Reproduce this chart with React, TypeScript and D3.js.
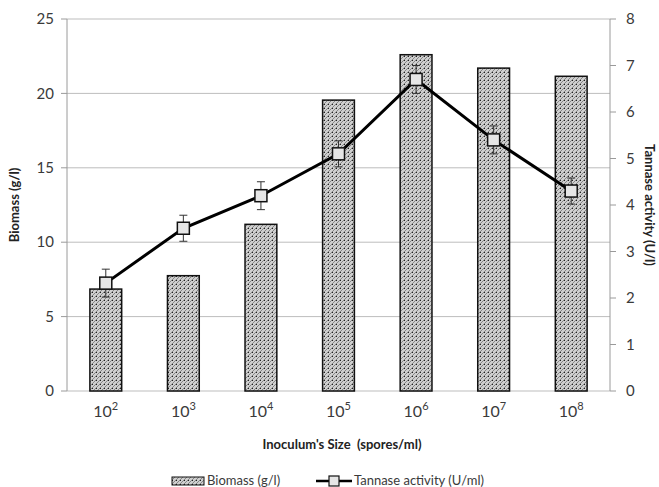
import React, { useEffect, useRef } from 'react';
import * as d3 from 'd3';

const categories = ['2', '3', '4', '5', '6', '7', '8']; // exponents of 10
const biomass = [6.85, 7.75, 11.2, 19.55, 22.6, 21.7, 21.15];
const tannase = [2.32, 3.5, 4.2, 5.1, 6.7, 5.4, 4.3];
const tannaseErr = [0.3, 0.28, 0.3, 0.28, 0.3, 0.3, 0.28];
const leftTicks = [0, 5, 10, 15, 20, 25];
const rightTicks = [0, 1, 2, 3, 4, 5, 6, 7, 8];

const W = 659;
const H = 487;
const FONT = 'Lato, "Open Sans", sans-serif';

export default function App() {
    const svgRef = useRef<SVGSVGElement>(null);

    useEffect(() => {
        document.body.style.margin = '0';
        if (!svgRef.current) return;
        const svg = d3.select(svgRef.current);
        svg.selectAll('*').remove();

        const m = { left: 67, right: 610, top: 19, bottom: 391 };

        const x = d3.scaleBand<string>()
            .domain(categories)
            .range([m.left, m.right])
            .paddingInner(0.59)
            .paddingOuter(0.295);
        const yL = d3.scaleLinear().domain([0, 25]).range([m.bottom, m.top]);
        const yR = d3.scaleLinear().domain([0, 8]).range([m.bottom, m.top]);

        const defs = svg.append('defs');
        const pat = defs.append('pattern')
            .attr('id', 'hatch')
            .attr('patternUnits', 'userSpaceOnUse')
            .attr('width', 4)
            .attr('height', 4);
        pat.append('rect').attr('width', 4).attr('height', 4).attr('fill', '#cfcfcf');
        pat.append('path')
            .attr('d', 'M0,4 L4,0 M-1,1 L1,-1 M3,5 L5,3')
            .attr('stroke', '#7e7e7e')
            .attr('stroke-width', 0.9);
        pat.append('rect').attr('x', 0).attr('y', 0).attr('width', 1).attr('height', 1).attr('fill', '#222');

        // gridlines
        svg.append('g').selectAll('line')
            .data(leftTicks)
            .join('line')
            .attr('x1', m.left).attr('x2', m.right)
            .attr('y1', (d) => yL(d)).attr('y2', (d) => yL(d))
            .attr('stroke', '#bdbdbd').attr('stroke-width', 1);

        // left axis
        const gl = svg.append('g');
        gl.append('line').attr('x1', m.left).attr('x2', m.left).attr('y1', m.top).attr('y2', m.bottom)
            .attr('stroke', '#9a9a9a');
        leftTicks.forEach((t) => {
            gl.append('line').attr('x1', m.left - 6).attr('x2', m.left).attr('y1', yL(t)).attr('y2', yL(t))
                .attr('stroke', '#9a9a9a');
            gl.append('text').attr('x', m.left - 13).attr('y', yL(t)).attr('dy', '0.35em')
                .attr('text-anchor', 'end').attr('font-size', 15).attr('fill', '#3a3a3a')
                .attr('font-family', FONT).text(t);
        });

        // right axis
        const gr = svg.append('g');
        gr.append('line').attr('x1', m.right).attr('x2', m.right).attr('y1', m.top).attr('y2', m.bottom)
            .attr('stroke', '#9a9a9a');
        rightTicks.forEach((t) => {
            gr.append('line').attr('x1', m.right).attr('x2', m.right + 6).attr('y1', yR(t)).attr('y2', yR(t))
                .attr('stroke', '#9a9a9a');
            gr.append('text').attr('x', m.right + 16).attr('y', yR(t)).attr('dy', '0.35em')
                .attr('text-anchor', 'start').attr('font-size', 15).attr('fill', '#3a3a3a')
                .attr('font-family', FONT).text(t);
        });

        // bars
        svg.append('g').selectAll('rect')
            .data(biomass)
            .join('rect')
            .attr('x', (_, i) => x(categories[i])!)
            .attr('width', x.bandwidth())
            .attr('y', (d) => yL(d))
            .attr('height', (d) => yL(0) - yL(d))
            .attr('fill', 'url(#hatch)')
            .attr('stroke', '#111')
            .attr('stroke-width', 1.5);

        // x tick labels
        categories.forEach((c) => {
            const t = svg.append('text')
                .attr('x', x(c)! + x.bandwidth() / 2)
                .attr('y', 417)
                .attr('text-anchor', 'middle')
                .attr('font-size', 16).attr('fill', '#3a3a3a').attr('font-family', FONT);
            t.append('tspan').text('10');
            t.append('tspan').attr('dy', -7).attr('font-size', 11).text(c);
        });

        const cx = (i: number) => x(categories[i])! + x.bandwidth() / 2;

        // error bars
        const ge = svg.append('g');
        tannase.forEach((v, i) => {
            const e = tannaseErr[i];
            ge.append('line').attr('x1', cx(i)).attr('x2', cx(i)).attr('y1', yR(v + e)).attr('y2', yR(v - e))
                .attr('stroke', '#333').attr('stroke-width', 1);
            [v + e, v - e].forEach((w) => {
                ge.append('line').attr('x1', cx(i) - 4).attr('x2', cx(i) + 4).attr('y1', yR(w)).attr('y2', yR(w))
                    .attr('stroke', '#333').attr('stroke-width', 1);
            });
        });

        // line
        const line = d3.line<number>().x((_, i) => cx(i)).y((d) => yR(d));
        svg.append('path').datum(tannase).attr('d', line)
            .attr('fill', 'none').attr('stroke', '#000').attr('stroke-width', 3);

        // markers
        svg.append('g').selectAll('rect')
            .data(tannase)
            .join('rect')
            .attr('x', (_, i) => cx(i) - 6)
            .attr('y', (d) => yR(d) - 6)
            .attr('width', 12).attr('height', 12)
            .attr('fill', '#e6e6e6')
            .attr('stroke', '#111').attr('stroke-width', 1.5);

        // axis titles
        svg.append('text').attr('x', 342).attr('y', 449).attr('text-anchor', 'middle')
            .attr('font-size', 13).attr('font-weight', 'bold').attr('fill', '#222').attr('font-family', FONT)
            .attr('xml:space', 'preserve')
            .text("Inoculum's Size  (spores/ml)");
        svg.append('text').attr('transform', `translate(19,${205}) rotate(-90)`).attr('text-anchor', 'middle')
            .attr('font-size', 13).attr('font-weight', 'bold').attr('fill', '#222').attr('font-family', FONT)
            .text('Biomass (g/l)');
        svg.append('text').attr('transform', `translate(645,${205}) rotate(90)`).attr('text-anchor', 'middle')
            .attr('font-size', 13).attr('font-weight', 'bold').attr('fill', '#222').attr('font-family', FONT)
            .text('Tannase activity (U/l)');

        // legend
        const lg = svg.append('g');
        lg.append('rect').attr('x', 172).attr('y', 477).attr('width', 32).attr('height', 8)
            .attr('fill', 'url(#hatch)').attr('stroke', '#111').attr('stroke-width', 1);
        lg.append('text').attr('x', 207).attr('y', 485).attr('font-size', 13).attr('fill', '#3a3a3a')
            .attr('font-family', FONT).text('Biomass (g/l)');
        lg.append('line').attr('x1', 316).attr('x2', 352).attr('y1', 481).attr('y2', 481)
            .attr('stroke', '#000').attr('stroke-width', 2.5);
        lg.append('rect').attr('x', 329).attr('y', 476).attr('width', 10).attr('height', 10)
            .attr('fill', '#e6e6e6').attr('stroke', '#111').attr('stroke-width', 1.2);
        lg.append('text').attr('x', 354).attr('y', 485).attr('font-size', 13).attr('fill', '#3a3a3a')
            .attr('font-family', FONT).text('Tannase activity (U/ml)');
    }, []);

    return <svg ref={svgRef} width={W} height={H} style={{ display: 'block', background: '#fff' }} />;
}
